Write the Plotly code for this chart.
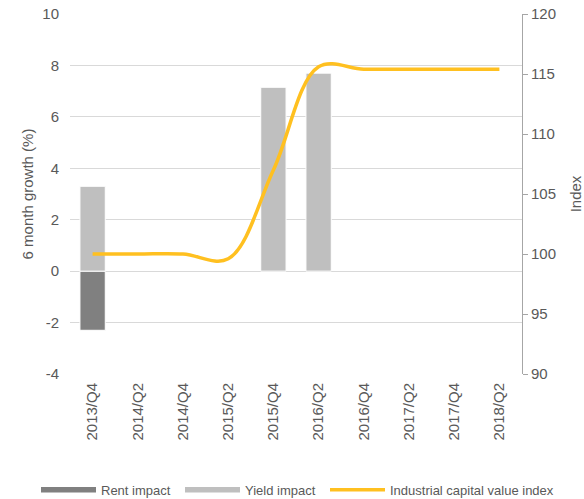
import plotly.graph_objects as go

categories = ["2013/Q4", "2014/Q2", "2014/Q4", "2015/Q2", "2015/Q4",
              "2016/Q2", "2016/Q4", "2017/Q2", "2017/Q4", "2018/Q2"]
rent_impact = [-2.3, None, None, None, None, None, None, None, None, None]
yield_impact = [3.3, None, None, None, 7.15, 7.7, None, None, None, None]
capital_index = [100, 100, 100, 99.6, 107.0, 115.6, 115.4, 115.4, 115.4, 115.4]
left_tickvals = [-4, -2, 0, 2, 4, 6, 8, 10]
left_ticktext = ["-4", "-2", "0", "2", "4", "6", "8", "10"]

RENT_C = "#808080"
YIELD_C = "#bfbfbf"
LINE_C = "#ffc020"
TXT = "#595959"
FONT = "Liberation Sans, Arial, sans-serif"

fig = go.Figure()
fig.add_trace(go.Bar(x=categories, y=rent_impact, marker=dict(color=RENT_C, line=dict(color="white", width=1)),
                     width=0.56, showlegend=False, name="Rent impact"))
fig.add_trace(go.Bar(x=categories, y=yield_impact, marker=dict(color=YIELD_C, line=dict(color="white", width=1)),
                     width=0.56, showlegend=False, name="Yield impact"))
fig.add_trace(go.Scatter(x=categories, y=capital_index, yaxis="y2", mode="lines",
                         line=dict(color=LINE_C, width=3.5, shape="spline", smoothing=1.0),
                         showlegend=False, name="Industrial capital value index"))
# legend entries with wide swatches, each in its own legend box
for nm, col, w, lg in [("Rent impact", RENT_C, 5.5, "legend"), ("Yield impact", YIELD_C, 5.5, "legend2"),
                       ("Industrial capital value index", LINE_C, 3.5, "legend3")]:
    fig.add_trace(go.Scatter(x=[None], y=[None], mode="lines", name=nm, legend=lg,
                             line=dict(color=col, width=w), showlegend=True))

PLOT_W = 584 - 70 - 62
legend_common = dict(orientation="h", xanchor="left", y=-0.322, yanchor="middle",
                     font=dict(size=13, color=TXT), itemwidth=55, bgcolor="rgba(0,0,0,0)")

fig.update_layout(
    width=584, height=499,
    margin=dict(l=70, r=62, t=14, b=125, autoexpand=False),
    paper_bgcolor="white", plot_bgcolor="white",
    barmode="relative", bargap=0.44,
    font=dict(family=FONT, size=15, color=TXT),
    xaxis=dict(type="category", tickangle=-90, showgrid=False, ticks="",
               tickfont=dict(size=15, color=TXT), showline=False, ticklabelstandoff=5),
    yaxis=dict(range=[-4, 10], tickvals=left_tickvals, ticktext=left_ticktext,
               showgrid=True, gridcolor="#d9d9d9", gridwidth=1,
               zeroline=False, showline=False, ticks="", ticklabelstandoff=10,
               title=dict(text="6 month growth (%)", font=dict(size=15, color=TXT), standoff=5),
               tickfont=dict(size=15, color=TXT)),
    yaxis2=dict(range=[90, 120], dtick=5, overlaying="y", side="right", showgrid=False,
                zeroline=False, showline=True, linecolor="#a6a6a6", linewidth=1,
                ticks="outside", ticklen=5, tickcolor="#a6a6a6",
                title=dict(text="Index", font=dict(size=15, color=TXT), standoff=19),
                tickfont=dict(size=15, color=TXT)),
    legend=dict(x=(36 - 70) / PLOT_W, **legend_common),
    legend2=dict(x=(180 - 70) / PLOT_W, **legend_common),
    legend3=dict(x=(325 - 70) / PLOT_W, **legend_common),
)

fig.write_html("out.html")
